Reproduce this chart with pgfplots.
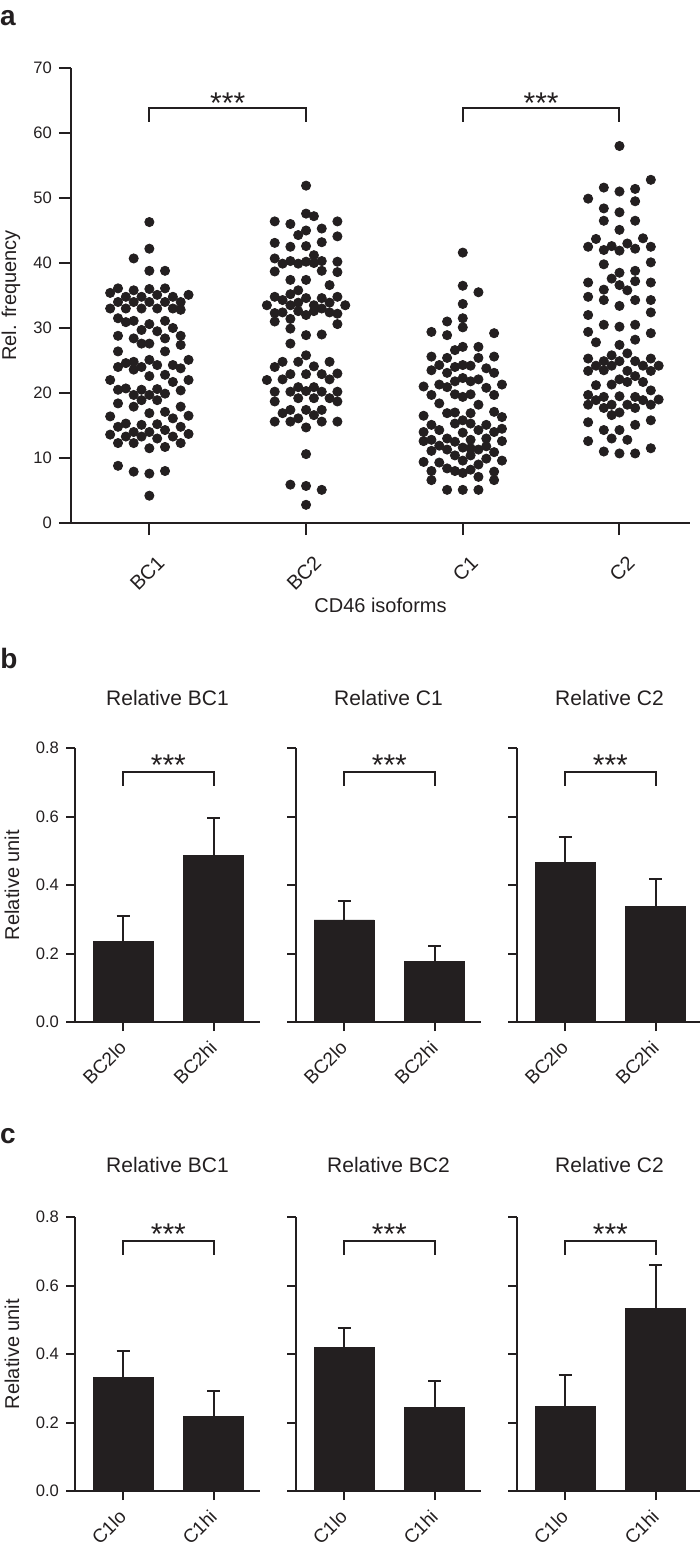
\documentclass[border=0pt]{standalone}
\usepackage{fontspec}
\setmainfont{Liberation Sans}
\usepackage{pgfplots}
\pgfplotsset{compat=1.18}
\definecolor{ink}{HTML}{231F20}

\tikzset{stars/.style={font=\fontsize{15}{15}\selectfont, text=ink, anchor=base, inner sep=0pt}}
\pgfplotsset{
  panel/.style={
    scale only axis, clip=false,
    axis lines*=left,
    axis line style={line width=1pt, ink},
    tick style={line width=1pt, ink},
    major tick length=6pt,
    tick align=outside,
    /pgf/number format/assume math mode=true,
    yticklabel style={font=\fontsize{8.3}{8.3}\selectfont, text=ink},
    label style={font=\fontsize{10}{10}\selectfont, text=ink},
    title style={font=\fontsize{10.5}{10.5}\selectfont, text=ink, at={(0.5,1)}, anchor=base, yshift=15.5pt},
  },
  barpanel/.style={panel, width=92.5pt, height=137pt,
    major tick length=4.5pt,
    xmin=-0.53, xmax=1.51, ymin=0, ymax=0.8,
    ytick={0,0.2,0.4,0.6,0.8}, xtick={0,1},
    yticklabel style={/pgf/number format/.cd, fixed, fixed zerofill, precision=1},
    xticklabel style={font=\fontsize{9.5}{9.5}\selectfont, xshift=1pt, yshift=-5.5pt, rotate=45, anchor=east, text=ink, inner sep=1.5pt},
  },
  nolab/.style={yticklabels={}},
  bars/.style={ybar, bar width=30pt, bar shift=0pt, fill=ink, draw=ink,
    error bars/.cd, y dir=plus, y explicit,
    error bar style={line width=1pt, draw=ink},
    error mark options={rotate=90, mark size=3.25pt, line width=1pt, draw=ink}},
}
\newcommand{\sig}{%
  \draw[line width=1pt, ink] (axis cs:0,0.69) |- (axis cs:0.5,0.73) -| (axis cs:1,0.69);
  \node[stars] at (axis cs:0.5,0.72) {***};}

\begin{document}
\begin{tikzpicture}
\useasboundingbox (0,0) rectangle (350pt,-776pt);

% ---- panel a
\node[font=\bfseries\fontsize{14}{14}\selectfont, text=ink] at (4pt,-9pt) {a};
\begin{axis}[panel, at={(35.5pt,-261.5pt)}, anchor=south west,
  width=309.5pt, height=227.5pt,
  xmin=-0.5, xmax=3.45, ymin=0, ymax=70,
  ytick={0,10,20,30,40,50,60,70},
  xtick={0,1,2,3}, xticklabels={BC1,BC2,C1,C2},
  xticklabel style={font=\fontsize{10}{10}\selectfont, xshift=7pt, yshift=-11pt, rotate=45, anchor=east, text=ink, inner sep=1.5pt},
  xlabel={CD46 isoforms}, ylabel={Rel. frequency},
  ylabel style={at={(axis description cs:-0.097,0.5)}, anchor=center},
  xlabel style={at={(axis description cs:0.5,-0.18)}, anchor=center},
]
\addplot[only marks, mark=*, mark size=2.3pt, ink] table {
x y
0 46.3
0 42.2
-0.10 40.7
0 38.8
0.10 38.8
-0.20 36.1
0 36.0
0.10 36.1
-0.25 35.4
-0.10 35.8
0.05 35.1
0.25 35.1
-0.15 34.8
-0.05 34.8
0.15 34.8
-0.2 34.0
-0.1 34.0
0 34.0
0.1 34.0
0.2 34.0
-0.25 33.0
-0.15 33.0
-0.05 33.0
0.05 33.0
0.15 33.0
0.2 32.8
-0.2 31.5
-0.15 30.9
-0.1 31.1
0 30.6
0.1 31.1
0.15 30.0
-0.05 29.7
0.05 29.5
0.2 28.8
-0.2 28.8
-0.1 28.4
0.1 28.4
-0.05 27.6
0 27.6
0.2 27.4
-0.2 26.4
0.1 26.4
-0.2 24.0
-0.15 24.6
-0.1 24.8
-0.05 24.0
0 25.1
0.05 24.3
0.15 24.3
0.2 23.8
0.25 25.1
-0.1 23.6
-0.25 22.0
0 22.6
0.1 22.8
0.15 21.7
0.25 22.0
-0.2 20.5
-0.15 20.7
-0.1 19.7
-0.05 20.5
0 19.7
0.05 20.6
0.1 19.9
0.2 20.4
-0.2 18.4
-0.1 17.9
-0.05 18.9
0.05 18.9
0.2 17.9
-0.25 16.4
0 16.9
0.1 17.1
0.15 16.1
0.25 16.5
-0.2 14.8
-0.15 15.3
-0.1 14.0
-0.05 15.1
0 14.0
0.05 15.2
0.1 14.3
0.2 14.8
-0.25 13.6
-0.15 13.3
-0.05 13.3
0.15 13.3
0.25 13.7
-0.2 12.3
-0.1 12.3
0.05 13.0
0.2 12.3
0 11.5
0.1 11.7
-0.2 8.8
-0.1 7.9
0 7.6
0.1 8.0
0 4.2
};
\addplot[only marks, mark=*, mark size=2.3pt, ink] table {
x y
1 51.9
1 47.6
1.05 47.2
0.8 46.4
0.9 46.0
1.2 46.4
1.1 45.3
1 45.0
0.95 44.3
1.2 44.1
0.8 43.1
1.1 43.2
0.9 42.5
1 42.6
1.05 41.2
0.8 40.7
1.2 40.2
0.85 39.9
0.9 40.3
0.95 39.9
1 40.2
1.05 40.0
1.1 40.3
0.8 38.7
1.2 38.6
1.1 38.8
0.9 37.4
1.15 36.6
1 37.4
0.95 35.8
0.8 34.8
1.2 34.8
0.9 35.2
0.85 34.3
0.9 33.5
0.95 33.9
1 34.6
1.05 33.5
1.1 33.0
1.15 33.9
0.95 32.6
1.05 32.6
1.15 32.4
0.85 32.4
1 32.0
1.1 34.6
0.75 33.5
1.25 33.5
0.8 32.3
1.2 32.2
0.8 31.0
0.9 31.4
1.2 30.6
0.9 29.9
1 28.9
1.1 29.0
0.9 27.6
1 25.8
0.85 24.8
0.95 24.8
1.15 24.8
0.8 24.0
1.05 24.1
0.75 22.0
0.85 22.1
0.9 22.9
1 22.9
1.1 22.9
1.15 22.1
1.2 23.0
0.8 20.2
0.9 20.2
0.95 20.9
1 20.3
1.05 20.9
1.1 20.2
1.2 20.2
0.8 18.7
0.95 19.2
1.05 19.2
1.15 19.2
1.2 18.7
0.9 17.4
0.85 16.9
1 17.4
1.1 17.4
1.05 16.6
0.8 15.6
0.9 15.6
0.95 16.1
1.1 15.6
1.2 15.6
1 14.7
1 10.6
0.9 5.9
1 5.7
1.1 5.1
1 2.8
};
\addplot[only marks, mark=*, mark size=2.3pt, ink] table {
x y
2 41.6
2 36.5
2.1 35.5
2 33.7
2 31.5
1.9 31.0
2 30.1
1.8 29.4
2.2 29.2
1.9 28.9
2 27.1
2.1 27.1
1.95 26.6
1.8 25.6
2.1 25.4
2.2 25.6
1.9 25.4
1.85 24.3
2 24.3
2.05 24.2
1.95 24.0
1.8 23.5
2.15 23.8
2.2 23.1
1.9 23.1
2 22.3
1.95 21.8
2.05 21.8
1.85 21.3
2.1 22.1
1.75 21.0
2.25 21.3
1.9 20.9
2.15 20.8
1.8 19.7
2.2 19.7
2 19.4
1.95 19.8
2.05 19.8
1.85 18.4
2.1 18.2
2.2 17.1
1.9 16.9
1.75 16.5
2.25 16.3
1.95 17.0
2.05 16.9
2 15.8
1.8 15.1
2.05 15.3
1.95 15.3
2.15 15.1
2.25 14.5
1.75 14.0
1.85 14.3
2.1 14.3
2 13.9
2.2 14.0
1.8 12.8
1.9 13.0
2.05 12.8
2.15 13.0
1.75 12.6
2.25 12.6
1.95 12.5
1.85 11.9
2.15 11.8
2.05 11.5
1.8 11.1
2 11.6
1.9 11.3
2.1 11.3
2.2 10.9
1.75 9.4
1.95 10.4
2.05 10.4
2.15 9.9
2 9.6
2.25 9.6
1.85 9.3
2.1 9.0
1.8 8.0
2.2 7.9
1.9 8.4
2.05 8.2
2 7.7
1.95 8.0
1.8 6.6
2.2 6.6
2.1 7.1
1.9 5.1
2 5.1
2.1 5.1
};
\addplot[only marks, mark=*, mark size=2.3pt, ink] table {
x y
3 58.0
3.2 52.8
2.9 51.6
3 51.0
3.1 51.4
2.8 49.9
3.1 49.5
2.9 48.4
3 47.8
2.9 46.5
3.1 46.5
3 45.1
3.15 43.8
2.85 43.7
2.8 42.5
2.95 42.6
3.05 43.0
3.2 42.5
2.9 42.0
3 41.9
3.1 42.2
3.2 40.1
2.9 39.8
3 38.5
3.1 38.8
2.95 37.6
2.8 37.0
3.2 37.0
3.1 37.2
2.9 35.9
3 36.6
3.05 35.8
2.8 34.8
2.9 34.3
3.1 34.3
3.2 34.3
3 33.4
2.8 32.0
3.2 32.4
2.9 30.5
3 30.2
3.1 30.5
2.8 29.4
3.2 29.2
2.85 27.8
3 27.4
3.1 28.2
3.05 26.1
2.95 25.8
2.8 25.3
3.2 25.3
2.9 24.9
3 24.9
3.1 24.9
2.85 24.2
3.25 24.2
3.15 24.2
2.95 24.2
2.8 23.4
2.9 23.5
3.05 23.4
3.2 23.4
3.1 22.6
3 22.1
3.05 21.7
3.15 21.7
2.85 21.2
2.95 21.3
3.2 20.4
2.8 19.7
2.9 19.4
3 19.5
3.1 19.4
3.25 19.0
2.85 18.9
3.15 18.9
2.8 18.2
2.95 18.2
3.05 18.2
3.2 18.2
2.9 17.7
3.1 17.7
2.95 16.6
3 17.0
2.8 15.5
3.2 15.8
3.1 15.1
2.9 14.3
3 14.3
2.95 13.0
3.05 12.8
2.8 12.6
3.2 11.5
2.9 11.0
3 10.7
3.1 10.7
};
\draw[line width=1pt, ink] (axis cs:0,61.7) |- (axis cs:0.5,63.8) -| (axis cs:1,61.7);
\draw[line width=1pt, ink] (axis cs:2,61.7) |- (axis cs:2.5,63.8) -| (axis cs:3,61.7);
\node[stars] at (axis cs:0.5,63.0) {***};
\node[stars] at (axis cs:2.5,63.0) {***};
\end{axis}

% ---- panel b
\node[font=\bfseries\fontsize{14}{14}\selectfont, text=ink] at (4.5pt,-329pt) {b};
\begin{axis}[barpanel, at={(37.5pt,-511pt)}, anchor=south west,
  title={Relative BC1}, xticklabels={BC2lo,BC2hi}, ylabel={Relative unit},
  ylabel style={at={(axis description cs:-0.34,0.5)}, anchor=center}]
\addplot[bars] coordinates {(0,0.235) +- (0,0.075) (1,0.485) +- (0,0.11)};
\sig
\end{axis}
\begin{axis}[barpanel, nolab, at={(148pt,-511pt)}, anchor=south west,
  title={Relative C1}, xticklabels={BC2lo,BC2hi}]
\addplot[bars] coordinates {(0,0.298) +- (0,0.054) (1,0.178) +- (0,0.044)};
\sig
\end{axis}
\begin{axis}[barpanel, nolab, at={(258.5pt,-511pt)}, anchor=south west,
  title={Relative C2}, xticklabels={BC2lo,BC2hi}]
\addplot[bars] coordinates {(0,0.467) +- (0,0.073) (1,0.338) +- (0,0.080)};
\sig
\end{axis}

% ---- panel c
\node[font=\bfseries\fontsize{14}{14}\selectfont, text=ink] at (4pt,-568pt) {c};
\begin{axis}[barpanel, at={(37.5pt,-745.5pt)}, anchor=south west,
  title={Relative BC1}, xticklabels={C1lo,C1hi}, ylabel={Relative unit},
  ylabel style={at={(axis description cs:-0.34,0.5)}, anchor=center},
  title style={yshift=1pt}]
\addplot[bars] coordinates {(0,0.332) +- (0,0.076) (1,0.217) +- (0,0.076)};
\sig
\end{axis}
\begin{axis}[barpanel, nolab, at={(148pt,-745.5pt)}, anchor=south west,
  title={Relative BC2}, xticklabels={C1lo,C1hi}, title style={yshift=1pt}]
\addplot[bars] coordinates {(0,0.418) +- (0,0.057) (1,0.245) +- (0,0.075)};
\sig
\end{axis}
\begin{axis}[barpanel, nolab, at={(258.5pt,-745.5pt)}, anchor=south west,
  title={Relative C2}, xticklabels={C1lo,C1hi}, title style={yshift=1pt}]
\addplot[bars] coordinates {(0,0.247) +- (0,0.091) (1,0.534) +- (0,0.127)};
\sig
\end{axis}
\end{tikzpicture}
\end{document}
